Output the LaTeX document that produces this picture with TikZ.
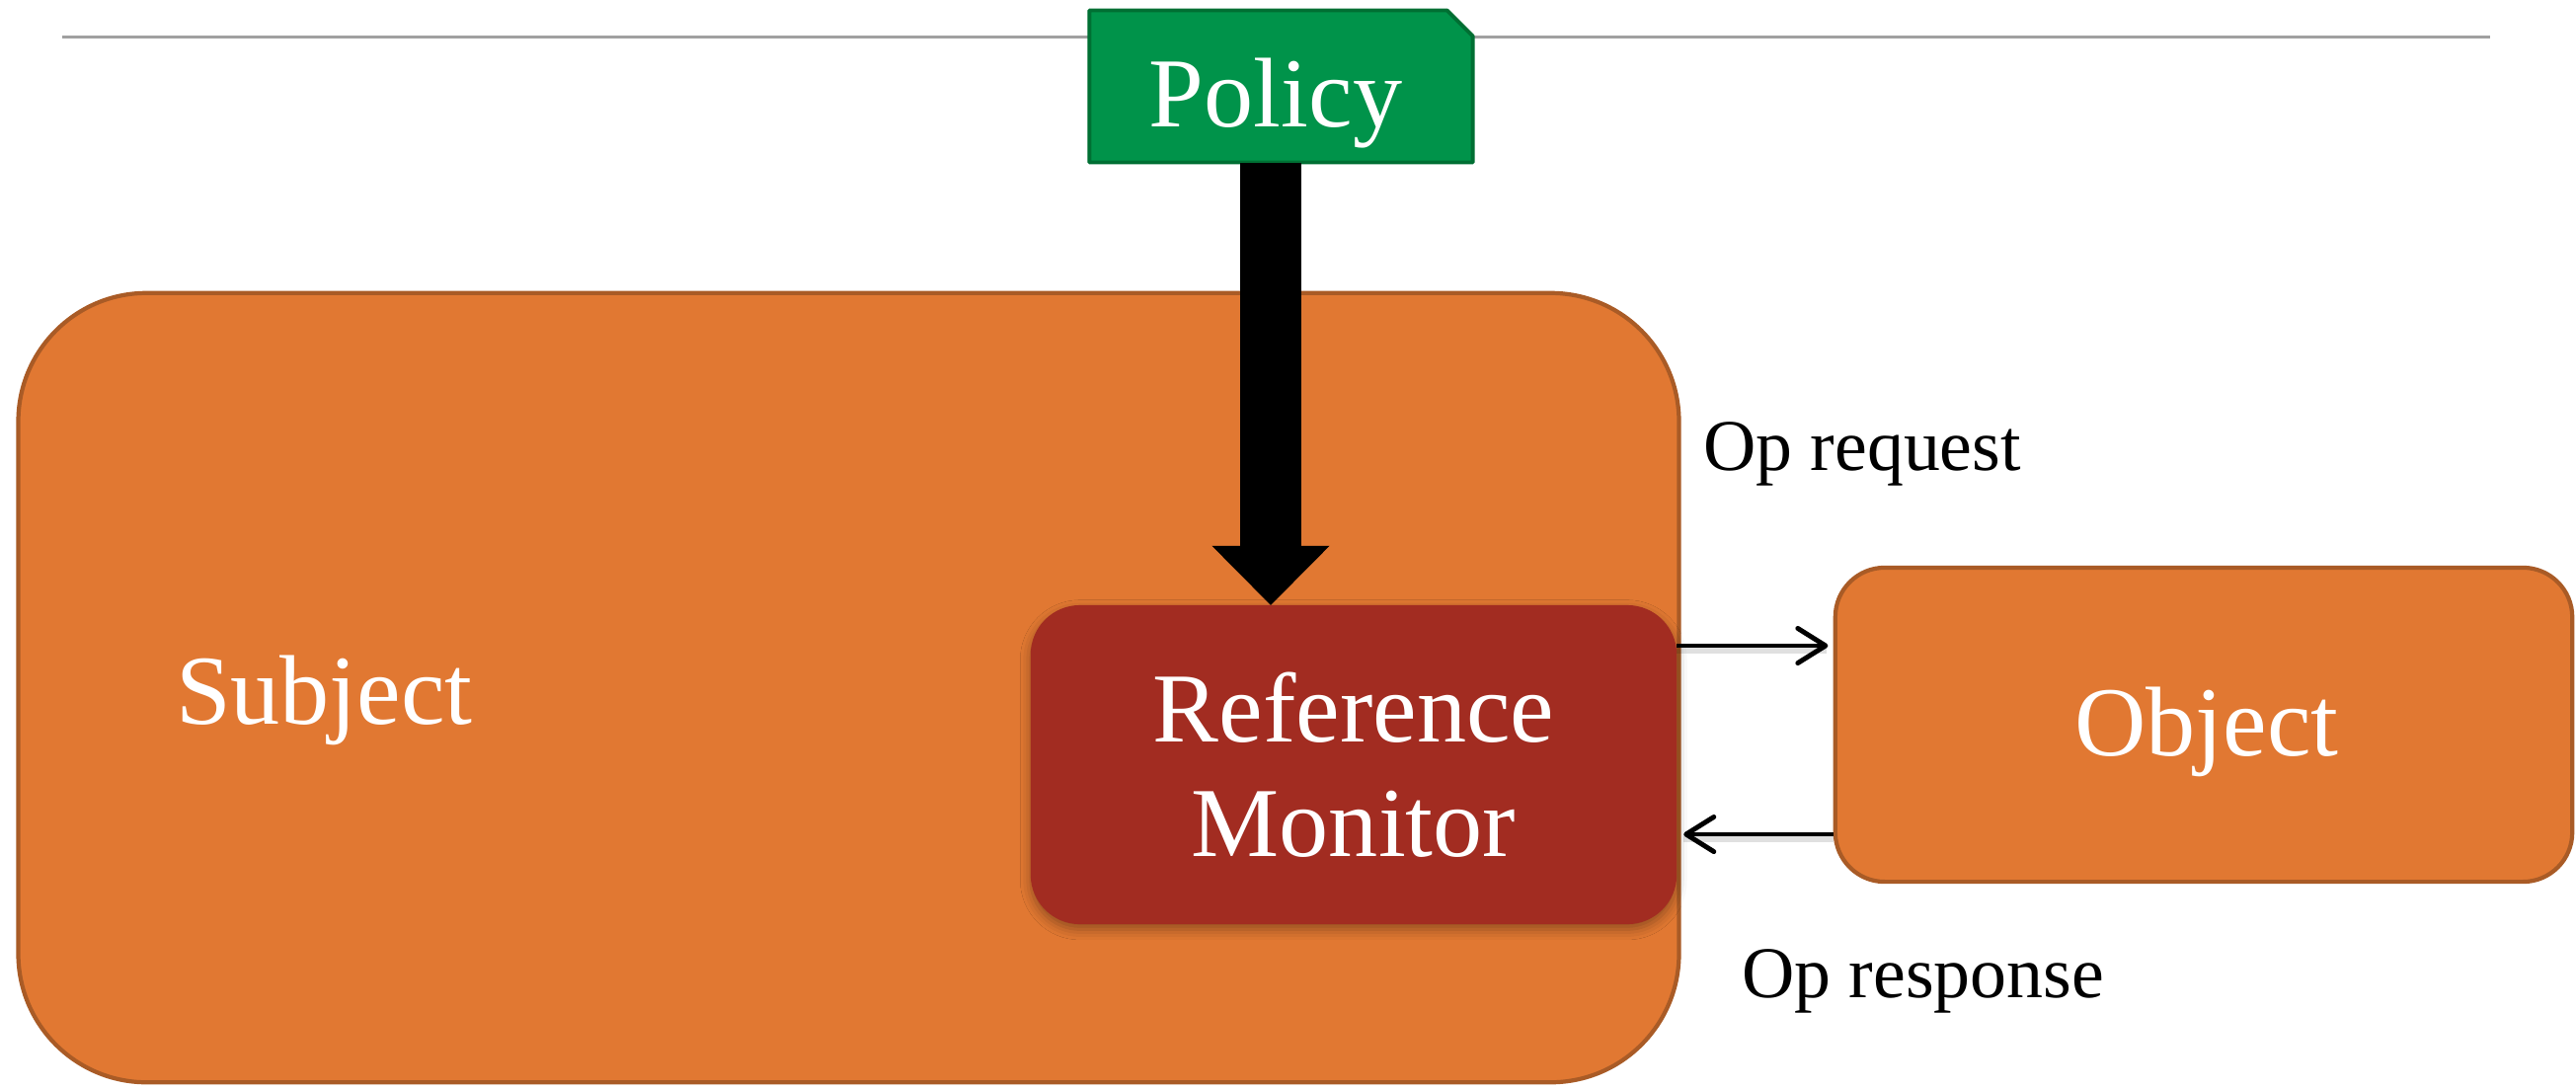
\documentclass[tikz,border=0pt]{standalone}
\usepackage{fontspec}
\setmainfont{Liberation Serif}
\usetikzlibrary{arrows.meta,shadows.blur}
\definecolor{orangefill}{HTML}{E17832}
\definecolor{orangeline}{HTML}{A95B26}
\definecolor{rmred}{HTML}{A22C21}
\definecolor{polgreen}{HTML}{00934A}
\definecolor{polline}{HTML}{006F33}
\definecolor{rulegray}{HTML}{A0A0A0}
\tikzset{
  box/.style={draw=orangeline, fill=orangefill, line width=1.2pt, inner sep=0pt},
  bigfont/.style={font=\fontsize{28.5}{33}\selectfont, text=white},
  smallfont/.style={font=\fontsize{21}{25}\selectfont, text=black},
  lbl/.style={inner sep=0pt, outer sep=0pt},
  conn/.style={line width=1.4pt, draw=black, -{Straight Barb[length=8pt,width=10pt,round]}},
  connshadow/.style={line width=2.2pt, draw=black, opacity=0.12, transform canvas={yshift=-1.2pt}},
  bigarrow/.style={line width=0.61cm, draw=black, -{Triangle[length=0.6cm,width=1.19cm,line width=0pt]}},
}
\begin{document}
\begin{tikzpicture}[x=0.01cm,y=-0.01cm]
\useasboundingbox (0,0) rectangle (2609,1102);
% top rule
\coordinate (ruleL) at (63,37);
\coordinate (ruleR) at (2522,37);
\draw[rulegray, line width=0.85pt] (ruleL) -- (ruleR);
% subject
\node[box, rounded corners=1.3cm, minimum width=16.81cm, minimum height=7.99cm] (subj) at (859.5,696.5) {};
\node[lbl, bigfont, anchor=base west] (subjtext) at (178,733) {Subject};
% reference monitor
\node[fill=rmred, rounded corners=0.5cm, minimum width=6.54cm, minimum height=3.23cm,
      inner sep=0pt, outer sep=0pt, align=center, bigfont,
      blur shadow={shadow xshift=0pt, shadow yshift=-1.5pt, shadow blur radius=3pt, shadow opacity=35}]
      (rm) at (1371,774.5) {Reference\\Monitor};
% object
\node[box, rounded corners=0.5cm, minimum width=7.46cm, minimum height=3.18cm] (obj) at (2232,734) {};
\node[lbl, bigfont, anchor=base] (objtext) at (2235,765) {Object};
% policy
\node[minimum width=3.88cm, minimum height=1.54cm, inner sep=0pt, outer sep=0pt] (policy) at (1297.5,87.5) {};
\path[draw=polline, fill=polgreen, line width=1.1pt, line join=round]
  (policy.south west) -- (policy.north west) -- ([xshift=-0.26cm]policy.north east)
  -- ([yshift=-0.26cm]policy.north east) -- (policy.south east) -- cycle;
\node[lbl, bigfont, anchor=base] (policytext) at (1292,128) {Policy};
% big arrow
\coordinate (ax) at (1287,0);
\draw[bigarrow] (policy.south -| ax) -- (rm.north -| ax);
% connectors
\coordinate (reqy) at (0,654);
\coordinate (resy) at (0,845);
\draw[connshadow] (rm.east |- reqy) -- ([xshift=-2pt]obj.west |- reqy);
\draw[connshadow] (obj.west |- resy) -- ([xshift=2pt]rm.east |- resy);
\draw[conn, shorten >=1.5pt] (rm.east |- reqy) -- (obj.west |- reqy);
\draw[conn, shorten >=2pt] (obj.west |- resy) -- (rm.east |- resy);
\node[lbl, smallfont, anchor=base west] (reqtext) at (1725,476) {Op request};
\node[lbl, smallfont, anchor=base west] (restext) at (1764,1010) {Op response};
\end{tikzpicture}
\end{document}
